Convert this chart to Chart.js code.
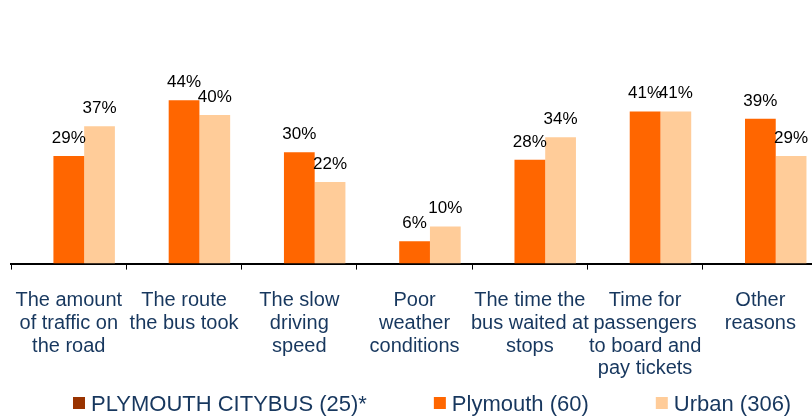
<!DOCTYPE html>
<html>
<head>
<meta charset="utf-8">
<script src="https://cdn.jsdelivr.net/npm/chart.js@4"></script>
<style>
  html, body { margin: 0; padding: 0; background: #fff; overflow: hidden; }
  #wrap { width: 812px; height: 417px; overflow: hidden; position: relative; }
  #box { width: 835px; height: 417px; position: absolute; left: -5px; top: 0; }
</style>
</head>
<body>
<div id="wrap"><div id="box"><canvas id="myChart"></canvas></div></div>
<script>
const categorias = [
  ['The amount', 'of traffic on', 'the road'],
  ['The route', 'the bus took'],
  ['The slow', 'driving', 'speed'],
  ['Poor', 'weather', 'conditions'],
  ['The time the', 'bus waited at', 'stops'],
  ['Time for', 'passengers', 'to board and', 'pay tickets'],
  ['Other', 'reasons']
]
const citybus = [null, null, null, null, null, null, null]
const plymouth = [29, 44, 30, 6, 28, 41, 39]
const urban = [37, 40, 22, 10, 34, 41, 29]

const fuente = '"Liberation Sans", Arial, sans-serif'
const azul = '#17375E'

/* etiquetas de porcentaje sobre las barras */
const etiquetas = {
  id: 'etiquetas',
  afterDatasetsDraw(chart) {
    const ctx = chart.ctx
    ctx.save()
    ctx.font = '17px ' + fuente
    ctx.fillStyle = '#000'
    ctx.textAlign = 'center'
    ctx.textBaseline = 'alphabetic'
    chart.data.datasets.forEach((ds, i) => {
      const meta = chart.getDatasetMeta(i)
      meta.data.forEach((bar, j) => {
        const v = ds.data[j]
        if (v === null) return
        ctx.fillText(v + '%', bar.x, bar.y - 13)
      })
    })
    ctx.restore()
  }
}

/* leyenda dibujada a mano, abajo */
const leyenda = {
  id: 'leyenda',
  afterDraw(chart) {
    const ctx = chart.ctx
    ctx.save()
    ctx.font = '22px ' + fuente
    ctx.textBaseline = 'middle'
    ctx.textAlign = 'left'
    let x = 78
    const y = 405
    chart.data.datasets.forEach((ds) => {
      ctx.fillStyle = ds.backgroundColor
      ctx.fillRect(x, y - 8, 12, 12)
      ctx.fillStyle = azul
      ctx.fillText(ds.label, x + 18, y)
      x += 18 + ctx.measureText(ds.label).width + 67
    })
    ctx.restore()
  }
}

const config = {
  type: 'bar',
  data: {
    labels: categorias,
    datasets: [
      { label: 'PLYMOUTH CITYBUS (25)*', data: citybus, backgroundColor: '#993300' },
      { label: 'Plymouth (60)', data: plymouth, backgroundColor: '#FF6600' },
      { label: 'Urban (306)', data: urban, backgroundColor: '#FFCC99' }
    ]
  },
  options: {
    responsive: true,
    maintainAspectRatio: false,
    animation: false,
    categoryPercentage: 0.8,
    barPercentage: 1,
    layout: { padding: { left: 6, right: 12, top: 0, bottom: 17 } },
    scales: {
      x: {
        grid: { drawOnChartArea: false, drawTicks: true, tickLength: 6, color: '#000', offset: true },
        border: { display: true, color: '#000', width: 2 },
        ticks: {
          color: azul,
          font: { family: fuente, size: 20, lineHeight: 1.13 },
          maxRotation: 0,
          autoSkip: false,
          padding: 20
        }
      },
      y: {
        display: false,
        min: 0,
        max: 71
      }
    },
    plugins: {
      legend: { display: false },
      tooltip: { enabled: false }
    }
  },
  plugins: [etiquetas, leyenda]
}

new Chart(document.getElementById('myChart'), config)
</script>
</body>
</html>
